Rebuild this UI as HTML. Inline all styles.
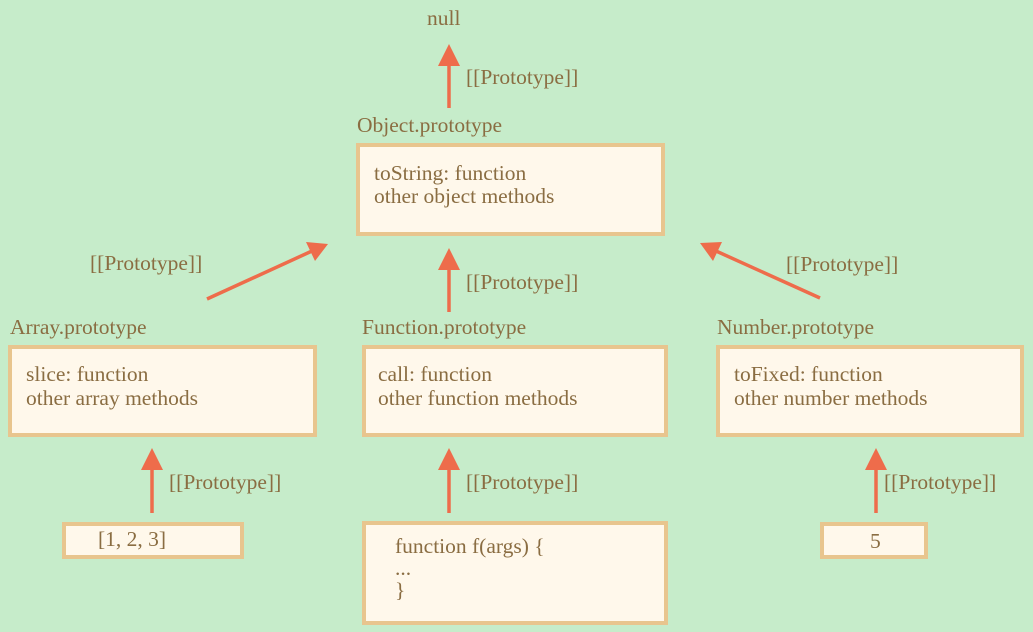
<!DOCTYPE html>
<html><head><style>
html,body{margin:0;width:1033px;height:632px;overflow:hidden;background:#c6ecca;}
svg{display:block}
svg text{font-family:"Liberation Serif",serif;font-size:21.5px;fill:#8a6d42;}
</style></head><body>
<svg width="1033" height="632" xmlns="http://www.w3.org/2000/svg">
<rect width="1033" height="632" fill="#c6ecca"/>
<g fill="#fff8eb" stroke="#e8c58e" stroke-width="4">
<rect x="358" y="145" width="305" height="89"/>
<rect x="10" y="347" width="305" height="88"/>
<rect x="364" y="347" width="302" height="88"/>
<rect x="718" y="347" width="304" height="88"/>
<rect x="64" y="524" width="178" height="33"/>
<rect x="364" y="523" width="302" height="100"/>
<rect x="822" y="524" width="104" height="33"/>
</g>
<g stroke="#ee6c4b" stroke-width="3.5" fill="#ee6c4b">
<line x1="449" y1="108" x2="449" y2="62"/><polygon points="449,44 438,66 460,66" stroke="none"/>
<line x1="449" y1="312" x2="449" y2="266"/><polygon points="449,248 438,270 460,270" stroke="none"/>
<line x1="152" y1="513" x2="152" y2="466"/><polygon points="152,448 141,470 163,470" stroke="none"/>
<line x1="449" y1="513" x2="449" y2="466"/><polygon points="449,448 438,470 460,470" stroke="none"/>
<line x1="876" y1="513" x2="876" y2="466"/><polygon points="876,448 865,470 887,470" stroke="none"/>
<line x1="207" y1="299" x2="312" y2="251"/><polygon points="328,244 306,242 315,261" stroke="none"/>
<line x1="820" y1="298" x2="716" y2="251"/><polygon points="700,243 713,261 722,242" stroke="none"/>
</g>
<text x="427" y="25">null</text>
<text x="466" y="84">[[Prototype]]</text>
<text x="357" y="132">Object.prototype</text>
<text x="374" y="180">toString: function</text>
<text x="374" y="203">other object methods</text>
<text x="90" y="270">[[Prototype]]</text>
<text x="466" y="289">[[Prototype]]</text>
<text x="786" y="271">[[Prototype]]</text>
<text x="10" y="334">Array.prototype</text>
<text x="362" y="334">Function.prototype</text>
<text x="717" y="334">Number.prototype</text>
<text x="26" y="381">slice: function</text>
<text x="26" y="405">other array methods</text>
<text x="378" y="381">call: function</text>
<text x="378" y="405">other function methods</text>
<text x="734" y="381">toFixed: function</text>
<text x="734" y="405">other number methods</text>
<text x="169" y="489">[[Prototype]]</text>
<text x="466" y="489">[[Prototype]]</text>
<text x="884" y="489">[[Prototype]]</text>
<text x="98" y="546">[1, 2, 3]</text>
<text x="870" y="548">5</text>
<text x="395" y="553">function f(args) {</text>
<text x="395" y="575">...</text>
<text x="395" y="597">}</text>
</svg>
</body></html>
